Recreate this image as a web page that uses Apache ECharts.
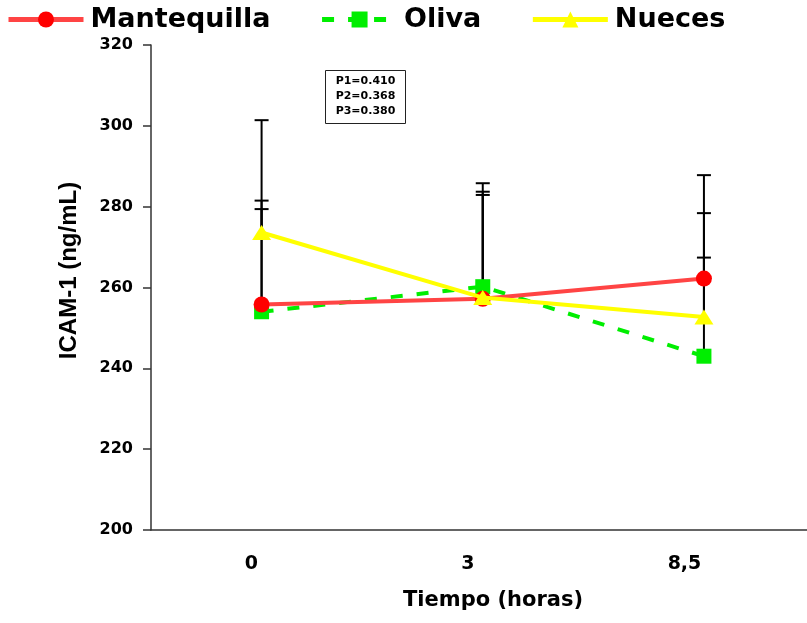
<!DOCTYPE html>
<html>
<head>
<meta charset="utf-8">
<script src="https://cdn.jsdelivr.net/npm/echarts@6/dist/echarts.min.js"></script>
<style>
  html, body { margin: 0; padding: 0; background: #fff; }
  #chart { width: 807px; height: 623px; }
</style>
</head>
<body>
<div id="chart"></div>
<script>
// categorias del eje X (tiempo en horas)
const tiempos = ['0', '3', '8,5'];

// medias de ICAM-1 por grupo
const mantequilla = [255.8, 257.2, 262.2];
const oliva = [254.0, 260.2, 243.0];
const nueces = [273.6, 257.5, 252.7];

// extremo superior de la barra de error
const mantequillaSup = [281.5, 283.7, 287.8];
const olivaSup = [279.4, 285.8, 267.4];
const nuecesSup = [301.4, 282.9, 278.4];

const pValores = ['P1=0.410', 'P2=0.368', 'P3=0.380'];

const FONT = 'DejaVu Sans';

function toPoints(values) {
    return values.map((v, i) => [i, v]);
}

function toErrors(values, tops) {
    return values.map((v, i) => [i, v, tops[i]]);
}

const errorData = []
    .concat(toErrors(mantequilla, mantequillaSup))
    .concat(toErrors(oliva, olivaSup))
    .concat(toErrors(nueces, nuecesSup));

const chart = echarts.init(document.getElementById('chart'));

const option = {
    animation: false,
    backgroundColor: '#fff',
    grid: { left: 151, right: 0, top: 45, bottom: 93 },
    legend: {
        data: ['Mantequilla', 'Oliva', 'Nueces'],
        left: 1, top: 1,
        itemWidth: 75, itemHeight: 20,
        itemGap: 49,
        lineStyle: { width: 5 },
        textStyle: { fontFamily: FONT, fontWeight: 'bold', fontSize: 27, color: '#000', padding: [0, 0, 0, 2] }
    },
    xAxis: [
        {
            type: 'value', min: -0.5, max: 2.466,
            axisLine: { show: true, onZero: false, lineStyle: { color: '#333', width: 1.5 } },
            axisTick: { show: false },
            axisLabel: { show: false },
            splitLine: { show: false },
            name: 'Tiempo (horas)',
            nameLocation: 'middle',
            nameGap: 60,
            nameTextStyle: { fontFamily: FONT, fontWeight: 'bold', fontSize: 21, color: '#000', padding: [0, 0, 0, 28] }
        },
        {
            // solo para las etiquetas de categoria
            type: 'value', min: -0.464, max: 2.566,
            position: 'bottom',
            axisLine: { show: false, onZero: false },
            axisTick: { show: false },
            splitLine: { show: false },
            axisLabel: {
                customValues: [0, 1, 2],
                margin: 25,
                fontFamily: FONT, fontWeight: 'bold', fontSize: 19, color: '#000',
                formatter: (v) => tiempos[Math.round(v)] || ''
            }
        }
    ],
    yAxis: {
        type: 'value', min: 200, max: 320, interval: 20,
        axisLine: { show: true, onZero: false, lineStyle: { color: '#333', width: 1.5 } },
        axisTick: { show: true, length: 8, lineStyle: { color: '#333', width: 1.5 } },
        axisLabel: { margin: 18, fontFamily: FONT, fontWeight: 'bold', fontSize: 16, color: '#000' },
        splitLine: { show: false },
        name: 'ICAM-1 (ng/mL)',
        nameLocation: 'middle',
        nameGap: 70,
        nameTextStyle: { fontFamily: 'Liberation Sans', fontWeight: 'bold', fontSize: 24, color: '#000', padding: [0, 0, 0, 34] }
    },
    graphic: [{
        type: 'group',
        left: 325, top: 70,
        children: [
            { type: 'rect', shape: { x: 0, y: 0, width: 80, height: 53 }, style: { fill: '#fff', stroke: '#222', lineWidth: 1 } },
            {
                type: 'text', x: 40, y: 26,
                style: {
                    text: pValores.join('\n'),
                    font: 'bold 11px "DejaVu Sans"',
                    lineHeight: 15,
                    fill: '#000', align: 'center', verticalAlign: 'middle'
                }
            }
        ]
    }],
    series: [
        {
            name: 'errores',
            type: 'custom',
            z: 1,
            data: errorData,
            renderItem: (params, api) => {
                const p0 = api.coord([api.value(0), api.value(1)]);
                const p1 = api.coord([api.value(0), api.value(2)]);
                const style = { stroke: '#000', lineWidth: 2 };
                return {
                    type: 'group',
                    children: [
                        { type: 'line', shape: { x1: p0[0], y1: p0[1], x2: p1[0], y2: p1[1] }, style: style },
                        { type: 'line', shape: { x1: p1[0] - 7, y1: p1[1], x2: p1[0] + 7, y2: p1[1] }, style: style }
                    ]
                };
            }
        },
        {
            name: 'Oliva',
            type: 'line',
            z: 2,
            data: toPoints(oliva),
            symbol: 'rect', symbolSize: 15,
            itemStyle: { color: '#00ee00' },
            lineStyle: { color: '#00ee00', width: 4, type: [12, 14] }
        },
        {
            name: 'Mantequilla',
            type: 'line',
            z: 3,
            data: toPoints(mantequilla),
            symbol: 'circle', symbolSize: 16,
            itemStyle: { color: '#ff0000' },
            lineStyle: { color: '#ff4444', width: 4 }
        },
        {
            name: 'Nueces',
            type: 'line',
            z: 4,
            data: toPoints(nueces),
            symbol: 'triangle', symbolSize: [19, 15],
            itemStyle: { color: '#ffff00' },
            lineStyle: { color: '#ffff00', width: 4 }
        }
    ]
};

chart.setOption(option);
</script>
</body>
</html>
